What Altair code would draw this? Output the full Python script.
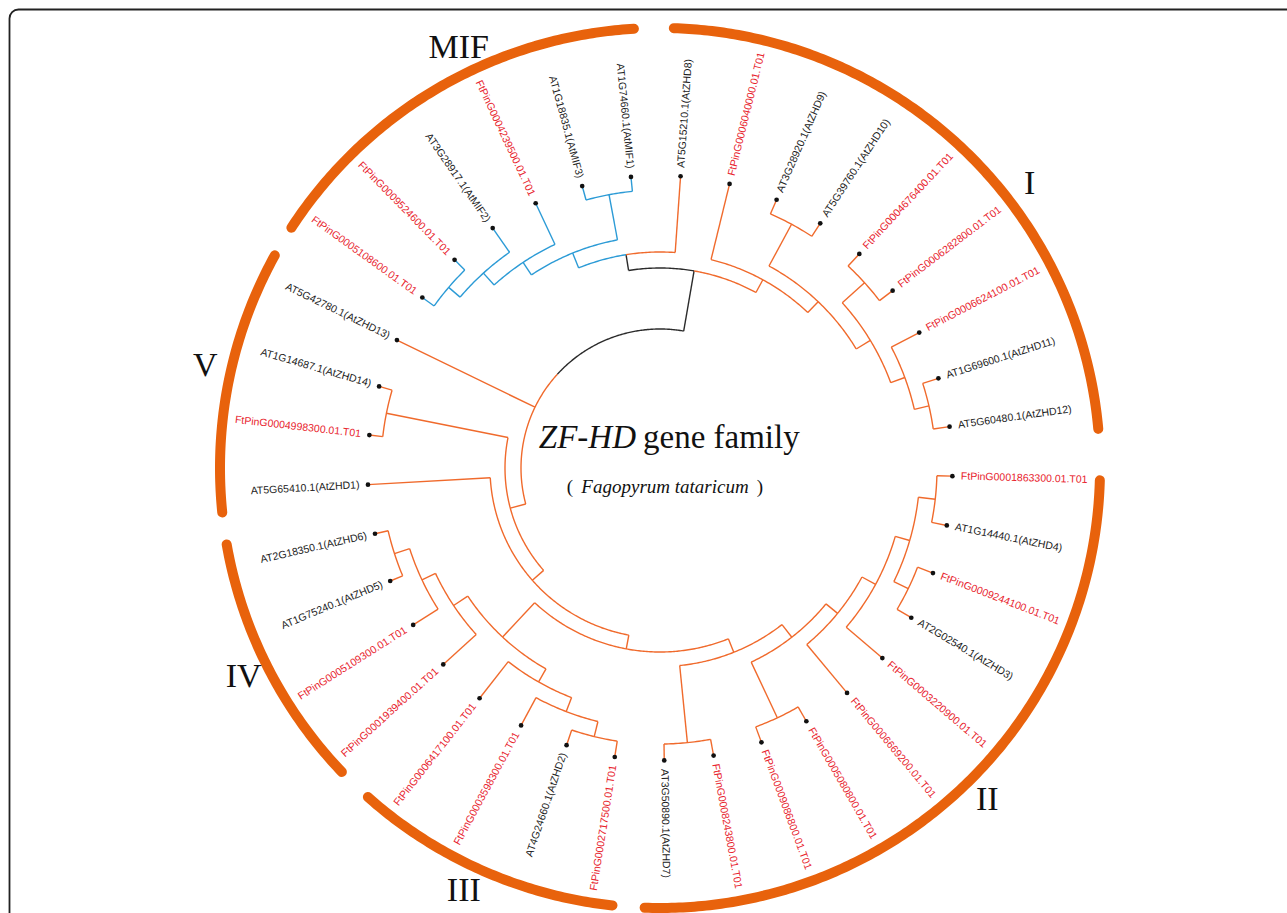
import math
import altair as alt
import pandas as pd

W, H = 1287, 913
CX, CY = 660.0, 468.0          # centre of the circular tree

# ---- tips, clockwise, starting just below 3 o'clock ----------------------
leaf_names = [
    "FtPinG0001863300.01.T01", "AT1G14440.1(AtZHD4)", "FtPinG0009244100.01.T01",
    "AT2G02540.1(AtZHD3)", "FtPinG0003220900.01.T01", "FtPinG0006669200.01.T01",
    "FtPinG0005080800.01.T01", "FtPinG0009086800.01.T01", "FtPinG0008243800.01.T01",
    "AT3G50890.1(AtZHD7)", "FtPinG0002717500.01.T01", "AT4G24660.1(AtZHD2)",
    "FtPinG0003598300.01.T01", "FtPinG0006417100.01.T01", "FtPinG0001939400.01.T01",
    "FtPinG0005109300.01.T01", "AT1G75240.1(AtZHD5)", "AT2G18350.1(AtZHD6)",
    "AT5G65410.1(AtZHD1)", "FtPinG0004998300.01.T01", "AT1G14687.1(AtZHD14)",
    "AT5G42780.1(AtZHD13)", "FtPinG0005108600.01.T01", "FtPinG0009524600.01.T01",
    "AT3G28917.1(AtMIF2)", "FtPinG0004239500.01.T01", "AT1G18835.1(AtMIF3)",
    "AT1G74660.1(AtMIF1)", "AT5G15210.1(AtZHD8)", "FtPinG0006040000.01.T01",
    "AT3G28920.1(AtZHD9)", "AT5G39760.1(AtZHD10)", "FtPinG0004676400.01.T01",
    "FtPinG0006282800.01.T01", "FtPinG0006624100.01.T01", "AT1G69600.1(AtZHD11)",
    "AT5G60480.1(AtZHD12)",
]
first_tip_angle = 91.6                    # degrees clockwise from 12 o'clock
tip_step = 360.0 / len(leaf_names)
tip_radius = 292.5
label_radius = 301.0

# ---- internal nodes: name -> (radius of the node arc, children) ----------
# children are other node names or tip indices, ordered clockwise
nodes = {
    "root": (139, ["U", 21, "R"]),
    "R": (200, ["Q", "X1"]),
    "Q": (216, ["P3", 28]),
    "P3": (232, ["P2", "N26"]),
    "P2": (247, ["P1", 25]),
    "P1": (263, ["N22", 24]),
    "N22": (278, [22, 23]),
    "N26": (278, [26, 27]),
    "X1": (214.5, [29, "X2"]),
    "X2": (229.5, ["N30", "X5"]),
    "N30": (277, [30, 31]),
    "X5": (246, ["N32", "N34"]),
    "N32": (276, [32, 33]),
    "N34": (261, [34, "N35"]),
    "N35": (276, [35, 36]),
    "U": (155, ["V", "N19"]),
    "V": (170, ["Wn", 18]),
    "Wn": (184, ["K4", "Xn"]),
    "K4": (198.5, ["K3", "N8"]),
    "K3": (214.5, ["K2", "N6"]),
    "K2": (229.5, ["K1", 5]),
    "K1": (245, ["N0_3", 4]),
    "N0_3": (260, ["N0", "N2"]),
    "N0": (277, [0, 1]),
    "N2": (276, [2, 3]),
    "N6": (276, [6, 7]),
    "N8": (276, [8, 9]),
    "Xn": (231, ["N10_13", "N14"]),
    "N10_13": (246, ["N10_12", 13]),
    "N10_12": (261, ["N10", 12]),
    "N10": (276.5, [10, 11]),
    "N14": (248, [14, "N15"]),
    "N15": (263, [15, "N16"]),
    "N16": (279, [16, 17]),
    "N19": (279, [19, 20]),
}
mif_node = "P3"
path_to_mif = ["root", "R", "Q"]

# ---- outer clade bands ---------------------------------------------------
clade_names = ["I", "II", "III", "IV", "V", "MIF"]
clade_start = [1.8, 91.6, 186.2, 226.3, 264.2, 303.1]
clade_end = [84.9, 182.0, 221.6, 260.0, 298.9, 356.6]
clade_label_angle = [52.5, 135.4, 204.9, 243.3, 282.6, 334.4]
band_radius = 440.0
clade_label_radius = 466.0

ORANGE = "#F06A2C"
BAND = "#E8620C"
BLUE = "#2C9BD6"
BLACK = "#2b2b2b"
RED = "#E8242E"
TXT = "#1c1c1c"


def polar(r, a):
    t = math.radians(a)
    return CX + r * math.sin(t), CY - r * math.cos(t)


def angle_of(c):
    if isinstance(c, int):
        return first_tip_angle + c * tip_step
    ch = nodes[c][1]
    return (angle_of(ch[0]) + angle_of(ch[-1])) / 2.0


def radius_of(c):
    return tip_radius if isinstance(c, int) else nodes[c][0]


def descendants(n):
    out = {n}
    if not isinstance(n, int):
        for c in nodes[n][1]:
            out |= descendants(c)
    return out


mif_set = descendants(mif_node)

rows = []
seg = [0]


def add_arc(r, a0, a1, col):
    if a1 - a0 < 1e-6:
        return
    n = max(2, int((a1 - a0) / 0.5) + 1)
    for i in range(n + 1):
        a = a0 + (a1 - a0) * i / n
        x, y = polar(r, a)
        rows.append({"seg": seg[0], "k": i, "x": x, "y": y, "col": col})
    seg[0] += 1


def add_radial(r0, r1, a, col):
    for i, r in enumerate((r0, r1)):
        x, y = polar(r, a)
        rows.append({"seg": seg[0], "k": i, "x": x, "y": y, "col": col})
    seg[0] += 1


for name, (r, ch) in nodes.items():
    lo, hi = angle_of(ch[0]), angle_of(ch[-1])
    mid = (lo + hi) / 2.0
    if name in mif_set:
        add_arc(r, lo, hi, BLUE)
    elif name in path_to_mif:
        nxt = path_to_mif[path_to_mif.index(name) + 1] if name != "Q" else mif_node
        hot = BLUE if name == "Q" else BLACK
        a_n = angle_of(nxt)
        if a_n < mid:
            add_arc(r, lo, mid, hot)
            add_arc(r, mid, hi, ORANGE)
        else:
            add_arc(r, lo, mid, ORANGE)
            add_arc(r, mid, hi, hot)
    else:
        add_arc(r, lo, hi, ORANGE)
    for c in ch:
        if c in mif_set:
            col = BLUE
        elif c in ("R", "Q"):
            col = BLACK
        else:
            col = ORANGE
        add_radial(r, radius_of(c), angle_of(c), col)

tree_df = pd.DataFrame(rows)

# tips and their labels
tips = []
for i, nm in enumerate(leaf_names):
    a = angle_of(i) % 360
    dx, dy = polar(tip_radius, a)
    lx, ly = polar(label_radius, a)
    right = a < 180
    rot = (a - 90) % 360 if right else (a + 90) % 360
    tips.append({"x": dx, "y": dy, "lx": lx, "ly": ly, "name": nm, "rot": rot,
                 "side": "R" if right else "L",
                 "col": RED if nm.startswith("Ft") else TXT})
tips_df = pd.DataFrame(tips)

# clade bands
band_rows = []
for j, (nm, a0, a1) in enumerate(zip(clade_names, clade_start, clade_end)):
    n = int((a1 - a0) / 0.5) + 1
    for i in range(n + 1):
        a = a0 + (a1 - a0) * i / n
        x, y = polar(band_radius, a)
        band_rows.append({"band": nm, "k": i, "x": x, "y": y})
band_df = pd.DataFrame(band_rows)

clab = []
for nm, a in zip(clade_names, clade_label_angle):
    x, y = polar(clade_label_radius, a)
    clab.append({"x": x, "y": y, "t": nm})
clab_df = pd.DataFrame(clab)

xs = alt.Scale(domain=[0, W], nice=False, zero=False)
ys = alt.Scale(domain=[0, H], nice=False, zero=False, reverse=True)


def X(f):
    return alt.X(f, type="quantitative", scale=xs, axis=None)


def Y(f):
    return alt.Y(f, type="quantitative", scale=ys, axis=None)


frame = alt.Chart(pd.DataFrame({"x": [9.5], "y": [9.5], "x2": [W + 40], "y2": [H + 40]})).mark_rect(
    fill=None, stroke="#222222", strokeWidth=1.8, cornerRadius=9, clip=True
).encode(x=X("x"), y=Y("y"), x2="x2:Q", y2="y2:Q")

bands = alt.Chart(band_df).mark_line(
    color=BAND, strokeWidth=10, strokeCap="round"
).encode(x=X("x"), y=Y("y"), detail="band:N", order="k:Q")

tree = alt.Chart(tree_df).mark_line(strokeWidth=1.4, strokeJoin="miter").encode(
    x=X("x"), y=Y("y"), detail="seg:N", order="k:Q",
    color=alt.Color("col:N", scale=None),
)

dots = alt.Chart(tips_df).mark_circle(size=22, color="#111111", opacity=1).encode(
    x=X("x"), y=Y("y")
)

lab_r = alt.Chart(tips_df[tips_df.side == "R"]).mark_text(
    align="left", baseline="middle", font="Liberation Sans", fontSize=10.5
).encode(x=X("lx"), y=Y("ly"), text="name:N", angle=alt.Angle("rot:Q", scale=None),
         color=alt.Color("col:N", scale=None))

lab_l = alt.Chart(tips_df[tips_df.side == "L"]).mark_text(
    align="right", baseline="middle", font="Liberation Sans", fontSize=10.5
).encode(x=X("lx"), y=Y("ly"), text="name:N", angle=alt.Angle("rot:Q", scale=None),
         color=alt.Color("col:N", scale=None))

clade_text = alt.Chart(clab_df).mark_text(
    align="center", baseline="middle", font="Liberation Serif", fontSize=34, color="#111111"
).encode(x=X("x"), y=Y("y"), text="t:N")

# centre caption
cap_df = pd.DataFrame([
    {"x": CX - 24, "y": CY - 20, "t": "ZF-HD", "a": "right", "s": "italic", "fs": 33},
    {"x": CX - 17, "y": CY - 20, "t": "gene family", "a": "left", "s": "normal", "fs": 33},
])
cap1 = alt.Chart(cap_df[cap_df.a == "right"]).mark_text(
    align="right", baseline="alphabetic", font="Liberation Serif", fontSize=33,
    fontStyle="italic", color="#111111"
).encode(x=X("x"), y=Y("y"), text="t:N")
cap2 = alt.Chart(cap_df[cap_df.a == "left"]).mark_text(
    align="left", baseline="alphabetic", font="Liberation Serif", fontSize=33, color="#111111"
).encode(x=X("x"), y=Y("y"), text="t:N")

sub_df = pd.DataFrame([
    {"x": CX + 5, "y": CY + 25, "t": "Fagopyrum tataricum"},
])
paren_df = pd.DataFrame([
    {"x": CX - 90, "y": CY + 25, "t": "(", "a": "left"},
    {"x": CX + 100, "y": CY + 25, "t": ")", "a": "right"},
])
sub = alt.Chart(sub_df).mark_text(
    align="center", baseline="alphabetic", font="Liberation Serif", fontSize=19,
    fontStyle="italic", color="#111111"
).encode(x=X("x"), y=Y("y"), text="t:N")
parens = alt.Chart(paren_df).mark_text(
    align="center", baseline="alphabetic", font="Liberation Serif", fontSize=19, color="#111111"
).encode(x=X("x"), y=Y("y"), text="t:N")

chart = alt.layer(
    frame, bands, tree, dots, lab_r, lab_l, clade_text, cap1, cap2, sub, parens
).properties(
    width=W, height=H, autosize=alt.AutoSizeParams(type="none"), padding=0,
    background="white",
).configure_view(stroke=None)

chart.save("out.html", embed_options={"renderer": "svg", "actions": False})
